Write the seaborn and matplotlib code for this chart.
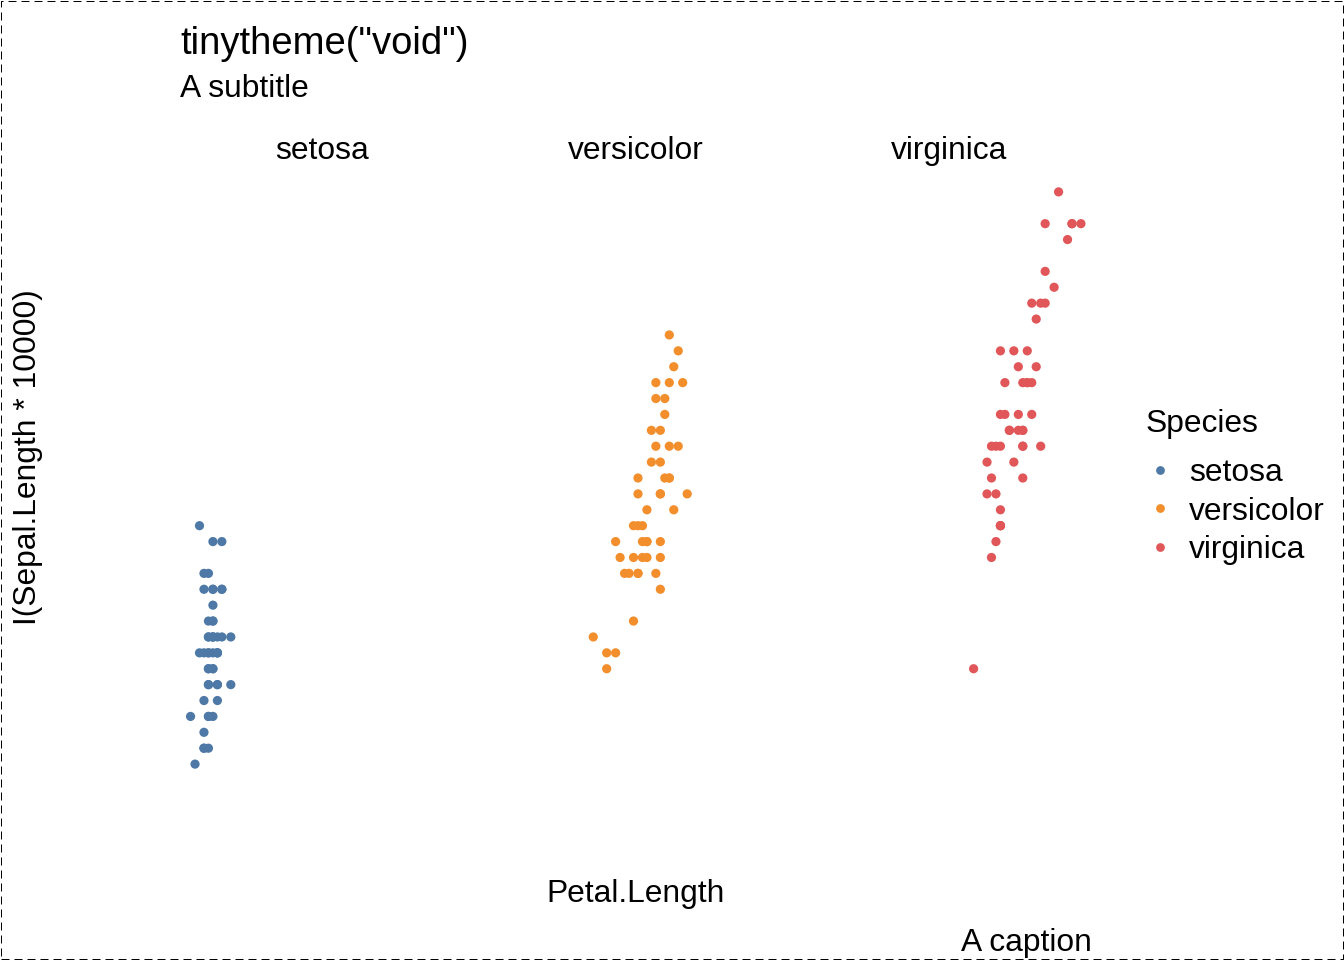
import numpy as np
import pandas as pd
import matplotlib
matplotlib.use("Agg")
import matplotlib.pyplot as plt
from matplotlib.patches import Rectangle
import seaborn as sns

# iris: Sepal.Length and Petal.Length per species
setosa_sepal = [5.1, 4.9, 4.7, 4.6, 5.0, 5.4, 4.6, 5.0, 4.4, 4.9,
                5.4, 4.8, 4.8, 4.3, 5.8, 5.7, 5.4, 5.1, 5.7, 5.1,
                5.4, 5.1, 4.6, 5.1, 4.8, 5.0, 5.0, 5.2, 5.2, 4.7,
                4.8, 5.4, 5.2, 5.5, 4.9, 5.0, 5.5, 4.9, 4.4, 5.1,
                5.0, 4.5, 4.4, 5.0, 5.1, 4.8, 5.1, 4.6, 5.3, 5.0]
setosa_petal = [1.4, 1.4, 1.3, 1.5, 1.4, 1.7, 1.4, 1.5, 1.4, 1.5,
                1.5, 1.6, 1.4, 1.1, 1.2, 1.5, 1.3, 1.4, 1.7, 1.5,
                1.7, 1.5, 1.0, 1.7, 1.9, 1.6, 1.6, 1.5, 1.4, 1.6,
                1.6, 1.5, 1.5, 1.4, 1.5, 1.2, 1.3, 1.4, 1.3, 1.5,
                1.3, 1.3, 1.3, 1.6, 1.9, 1.4, 1.6, 1.4, 1.5, 1.4]
versicolor_sepal = [7.0, 6.4, 6.9, 5.5, 6.5, 5.7, 6.3, 4.9, 6.6, 5.2,
                    5.0, 5.9, 6.0, 6.1, 5.6, 6.7, 5.6, 5.8, 6.2, 5.6,
                    5.9, 6.1, 6.3, 6.1, 6.4, 6.6, 6.8, 6.7, 6.0, 5.7,
                    5.5, 5.5, 5.8, 6.0, 5.4, 6.0, 6.7, 6.3, 5.6, 5.5,
                    5.5, 6.1, 5.8, 5.0, 5.6, 5.7, 5.7, 6.2, 5.1, 5.7]
versicolor_petal = [4.7, 4.5, 4.9, 4.0, 4.6, 4.5, 4.7, 3.3, 4.6, 3.9,
                    3.5, 4.2, 4.0, 4.7, 3.6, 4.4, 4.5, 4.1, 4.5, 3.9,
                    4.8, 4.0, 4.9, 4.7, 4.3, 4.4, 4.8, 5.0, 4.5, 3.5,
                    3.8, 3.7, 3.9, 5.1, 4.5, 4.5, 4.7, 4.4, 4.1, 4.0,
                    4.4, 4.6, 4.0, 3.3, 4.2, 4.2, 4.2, 4.3, 3.0, 4.1]
virginica_sepal = [6.3, 5.8, 7.1, 6.3, 6.5, 7.6, 4.9, 7.3, 6.7, 7.2,
                   6.5, 6.4, 6.8, 5.7, 5.8, 6.4, 6.5, 7.7, 7.7, 6.0,
                   6.9, 5.6, 7.7, 6.3, 6.7, 7.2, 6.2, 6.1, 6.4, 7.2,
                   7.4, 7.9, 6.4, 6.3, 6.1, 7.7, 6.3, 6.4, 6.0, 6.9,
                   6.7, 6.9, 5.8, 6.8, 6.7, 6.7, 6.3, 6.5, 6.2, 5.9]
virginica_petal = [6.0, 5.1, 5.9, 5.6, 5.8, 6.6, 4.5, 6.3, 5.8, 6.1,
                   5.1, 5.3, 5.5, 5.0, 5.1, 5.3, 5.5, 6.7, 6.9, 5.0,
                   5.7, 4.9, 6.7, 4.9, 5.7, 6.0, 4.8, 4.9, 5.6, 5.8,
                   6.1, 6.4, 5.6, 5.1, 5.6, 6.1, 5.6, 5.5, 4.8, 5.4,
                   5.6, 5.1, 5.1, 5.9, 5.7, 5.2, 5.0, 5.2, 5.4, 5.1]

species = ["setosa", "versicolor", "virginica"]
colors = ["#4E79A7", "#F28E2B", "#E15759"]

df = pd.DataFrame({
    "Sepal": setosa_sepal + versicolor_sepal + virginica_sepal,
    "Petal": setosa_petal + versicolor_petal + virginica_petal,
    "Species": ["setosa"] * 50 + ["versicolor"] * 50 + ["virginica"] * 50,
})
df["y"] = df["Sepal"] * 10000

sns.set_theme(style="white")
plt.rcParams["font.family"] = ["Liberation Sans", "DejaVu Sans"]
plt.rcParams["text.color"] = "black"
base = 22.9

W, H = 1344, 960
fig = plt.figure(figsize=(W / 100, H / 100), dpi=100)

xmin, xmax = df["Petal"].min(), df["Petal"].max()
ymin, ymax = df["y"].min(), df["y"].max()
xpad = (xmax - xmin) * 0.04
ypad = (ymax - ymin) * 0.04

pan_w = 285
pan_lefts = [180, 493.25, 806.5]
pan_top, pan_bot = 169, 787
palette = dict(zip(species, colors))

axes = []
for i, sp in enumerate(species):
    ax = fig.add_axes([pan_lefts[i] / W, 1 - pan_bot / H, pan_w / W, (pan_bot - pan_top) / H])
    sub = df[df["Species"] == sp]
    sns.scatterplot(data=sub, x="Petal", y="y", hue="Species", palette=palette,
                    hue_order=species, s=44, linewidth=0, ax=ax, legend=(i == 2))
    ax.set_xlim(xmin - xpad, xmax + xpad)
    ax.set_ylim(ymin - ypad, ymax + ypad)
    ax.set_axis_off()
    # facet label
    ax.text(0.5, 1 + 10 / (pan_bot - pan_top), sp, transform=ax.transAxes,
            ha="center", va="baseline", fontsize=base, color="black")
    axes.append(ax)

sns.move_legend(axes[2], loc="upper left",
                bbox_to_anchor=(1146 / W, 1 - 458 / H), bbox_transform=fig.transFigure,
                title=None, frameon=False, fontsize=base,
                handlelength=0.886, handletextpad=0.47, borderpad=0, borderaxespad=0,
                labelspacing=0.27, markerscale=0.95)
for t in axes[2].get_legend().get_texts():
    t.set_color("black")

fig.text(1146 / W, 1 - 431.7 / H, "Species", fontsize=base, ha="left", va="baseline")
fig.text(180 / W, 1 - 53.5 / H, 'tinytheme("void")', fontsize=27.5, ha="left", va="baseline")
fig.text(180 / W, 1 - 96.7 / H, "A subtitle", fontsize=base, ha="left", va="baseline")
fig.text(636 / W, 1 - 902 / H, "Petal.Length", fontsize=base, ha="center", va="baseline")
fig.text(28 / W, 1 - 457.5 / H, "I(Sepal.Length * 10000)", fontsize=base,
         rotation=90, ha="center", va="center")
fig.text(1092 / W, 1 - 950.7 / H, "A caption", fontsize=base, ha="right", va="baseline")

fig.patches.append(Rectangle((0.6 / W, 0.6 / H), 1 - 1.6 / W, 1 - 1.6 / H,
                             transform=fig.transFigure, fill=False, edgecolor="black",
                             linewidth=0.72, linestyle=(0, (8, 5))))

fig.savefig("out.png", dpi=100)
